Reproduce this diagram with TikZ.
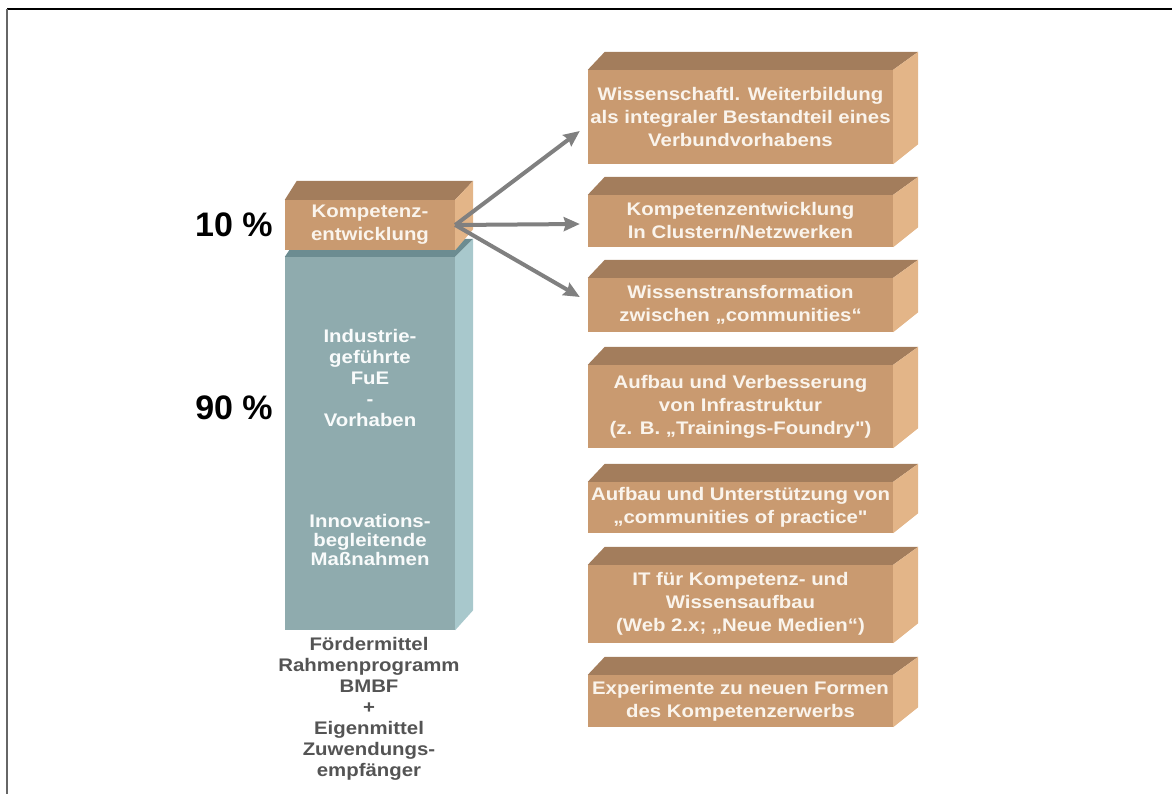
\documentclass[tikz,border=0pt]{standalone}
\usepackage{fontspec}
\usetikzlibrary{arrows.meta,positioning,calc}

\newfontfamily\slabfont[FakeStretch=1.12]{Liberation Sans Bold}
\newfontfamily\pctfont{Liberation Sans Bold}

\definecolor{boxfront}{RGB}{201,154,112}
\definecolor{boxtop}{RGB}{163,125,92}
\definecolor{boxside}{RGB}{227,181,136}
\definecolor{fuefront}{RGB}{143,171,174}
\definecolor{fuetop}{RGB}{108,140,145}
\definecolor{fueside}{RGB}{168,200,204}
\definecolor{slabtext}{RGB}{250,244,236}
\definecolor{arrowgray}{RGB}{128,128,128}

% slab = front face as node, top and side faces drawn from its anchors
\newcommand\slab[6]{%
  \node[front,fill=#2front,minimum width=#4pt,minimum height=#5pt] (#1) at (#3) {#6};
  \fill[#2top] (#1.north west) -- ++(\dxl,-\dy) -- ([shift={(\dxr,-\dy)}]#1.north east) -- (#1.north east) -- cycle;
  \fill[#2side] (#1.north east) -- ++(\dxr,-\dy) -- ([shift={(\dxr,-\dy-2)}]#1.south east) -- (#1.south east) -- cycle;
}

\begin{document}
\begin{tikzpicture}[x=1pt,y=-1pt,
  front/.style={inner sep=0pt,align=center,text=slabtext,font=\slabfont\fontsize{18.2}{23}\selectfont},
  pct/.style={inner sep=0pt,font=\pctfont\fontsize{34}{34}\selectfont},
  caption/.style={inner sep=0pt,align=center,text=black!67,font=\slabfont\fontsize{18.2}{21}\selectfont},
  arr/.style={arrowgray,line width=4pt,-{Stealth[length=16pt,width=14pt,inset=2pt]}}]
\useasboundingbox (0,0) rectangle (1172,794);
\draw[line width=1.5pt] (1172,9) -- (7,9);
\draw[black!60,line width=2pt] (7,9) -- (7,794);

% funding column
\def\dxl{12}\def\dxr{18}\def\dy{18}
\slab{fue}{fue}{370,443.5}{170}{373}{}
\def\dy{19}
\slab{komp}{box}{370,225}{170}{50}{Kompetenz-\\entwicklung}
\node[front,text=white!95!fuefront,font=\slabfont\fontsize{18.2}{21}\selectfont] (fuetxt) at (370,378)
  {Industrie-\\geführte\\FuE\\-\\Vorhaben};
\node[front,text=white!95!fuefront,font=\slabfont\fontsize{18.2}{19}\selectfont] (inntxt) at (370,540)
  {Innovations-\\begleitende\\Maßnahmen};
\node[pct,left=12pt of komp] (p10) {10 \%};
\node[pct] (p90) at (234,408) {90 \%};
\node[caption] (mittel) at (369,709)
  {Fördermittel\\Rahmenprogramm\\BMBF\\+\\Eigenmittel\\Zuwendungs-\\empfänger};

% measures
\def\dxl{17}\def\dxr{25}\def\dy{18}
\slab{w1}{box}{740.5,117}{305}{94}{Wissenschaftl. Weiterbildung\\als integraler Bestandteil eines\\Verbundvorhabens}
\slab{w2}{box}{740.5,221}{305}{52}{Kompetenzentwicklung\\In Clustern/Netzwerken}
\slab{w3}{box}{740.5,305}{305}{54}{Wissenstransformation\\zwischen „communities“}
\slab{w4}{box}{740.5,406.5}{305}{83}{Aufbau und Verbesserung\\von Infrastruktur\\(z. B. „Trainings-Foundry")}
\slab{w5}{box}{740.5,507.5}{305}{51}{Aufbau und Unterstützung von\\„communities of practice"}
\slab{w6}{box}{740.5,604}{305}{78}{IT für Kompetenz- und\\Wissensaufbau\\(Web 2.x; „Neue Medien“)}
\slab{w7}{box}{740.5,701}{305}{52}{Experimente zu neuen Formen\\des Kompetenzerwerbs}

\coordinate (t1) at ($(w1.west)+(-8,14)$);
\coordinate (t2) at ($(w2.west)+(-8,3)$);
\coordinate (t3) at ($(w3.west)+(-8,-8)$);
\foreach \t in {t1,t2,t3} { \draw[arr] (komp.east) -- (\t); }
\end{tikzpicture}
\end{document}
